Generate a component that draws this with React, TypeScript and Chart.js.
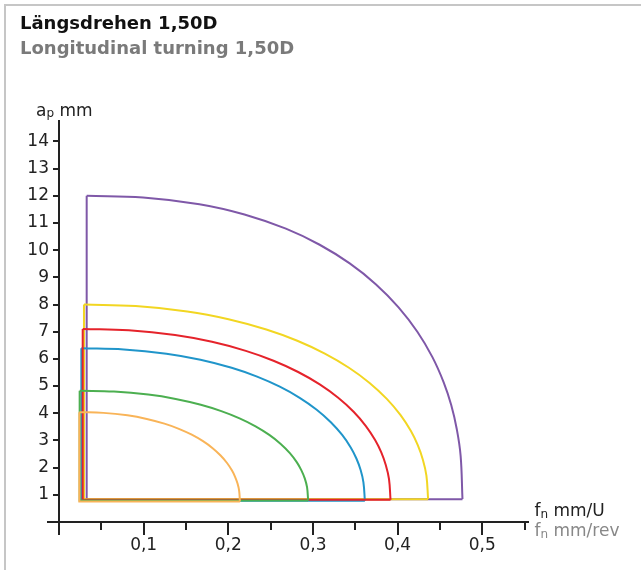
import { useEffect, useRef } from 'react';
import { Chart, registerables } from 'chart.js';

Chart.register(...registerables);

const FONT = "'DejaVu Sans', 'Liberation Sans', sans-serif";

const titleText = 'Längsdrehen 1,50D';
const subtitleText = 'Longitudinal turning 1,50D';

const yTitleParts = ['a', 'p', ' mm'];
const xTitleParts = ['f', 'n', ' mm/U'];
const xTitle2Parts = ['f', 'n', ' mm/rev'];

const xTickValues = [0, 0.1, 0.2, 0.3, 0.4, 0.5];
const xTickLabels = ['', '0,1', '0,2', '0,3', '0,4', '0,5'];
const xMinorTickValues = [0.05, 0.15, 0.25, 0.35, 0.45, 0.55];
const yTickValues = [1, 2, 3, 4, 5, 6, 7, 8, 9, 10, 11, 12, 13, 14];
const yTickLabels = ['1', '2', '3', '4', '5', '6', '7', '8', '9', '10', '11', '12', '13', '14'];
const yZeroTick = [0];

// series (top of drawing order first)
const orangeX = [0.024, 0.0525, 0.0809, 0.1037, 0.1245, 0.1416, 0.1568, 0.1701, 0.1815, 0.1909, 0.1985, 0.2042, 0.208, 0.2109, 0.2128, 0.2137];
const orangeY = [4.04, 4.014, 3.923, 3.792, 3.618, 3.428, 3.211, 2.972, 2.715, 2.445, 2.17, 1.9, 1.662, 1.413, 1.149, 0.75];
const orangeBase = 0.75;

const greenX = [0.0244, 0.0649, 0.1054, 0.1378, 0.1675, 0.1917, 0.2133, 0.2322, 0.2484, 0.2619, 0.2727, 0.2808, 0.2862, 0.2903, 0.293, 0.2943];
const greenY = [4.83, 4.798, 4.686, 4.526, 4.312, 4.078, 3.812, 3.518, 3.203, 2.871, 2.533, 2.203, 1.91, 1.605, 1.28, 0.79];
const greenBase = 0.79;

const redX = [0.028, 0.0825, 0.1371, 0.1807, 0.2207, 0.2534, 0.2825, 0.308, 0.3298, 0.348, 0.3625, 0.3734, 0.3807, 0.3861, 0.3898, 0.3916];
const redY = [7.1, 7.05, 6.876, 6.627, 6.295, 5.931, 5.517, 5.061, 4.57, 4.056, 3.53, 3.016, 2.561, 2.086, 1.582, 0.82];
const redBase = 0.82;

const blueX = [0.0264, 0.0766, 0.1269, 0.1671, 0.2039, 0.234, 0.2608, 0.2843, 0.3044, 0.3211, 0.3345, 0.3446, 0.3513, 0.3563, 0.3596, 0.3613];
const blueY = [6.39, 6.346, 6.19, 5.968, 5.671, 5.346, 4.976, 4.568, 4.13, 3.67, 3.201, 2.742, 2.335, 1.911, 1.461, 0.78];
const blueBase = 0.78;

const yellowX = [0.0295, 0.0905, 0.1515, 0.2002, 0.2449, 0.2815, 0.314, 0.3425, 0.3669, 0.3872, 0.4035, 0.4157, 0.4238, 0.4299, 0.434, 0.436];
const yellowY = [8.0, 7.943, 7.745, 7.461, 7.082, 6.668, 6.195, 5.675, 5.116, 4.529, 3.93, 3.343, 2.825, 2.284, 1.709, 0.84];
const yellowBase = 0.84;

const purpleX = [0.0327, 0.0993, 0.1659, 0.2191, 0.268, 0.3079, 0.3434, 0.3745, 0.4011, 0.4233, 0.4411, 0.4544, 0.4633, 0.4699, 0.4744, 0.4766];
const purpleY = [12.0, 11.938, 11.69, 11.313, 10.789, 10.198, 9.511, 8.74, 7.897, 6.998, 6.064, 5.136, 4.3, 3.411, 2.439, 0.84];
const purpleBase = 0.84;

const seriesList = [
  { name: 'orange', xs: orangeX, ys: orangeY, base: orangeBase, color: '#f9b458' },
  { name: 'green', xs: greenX, ys: greenY, base: greenBase, color: '#4caf50' },
  { name: 'red', xs: redX, ys: redY, base: redBase, color: '#e5232b' },
  { name: 'blue', xs: blueX, ys: blueY, base: blueBase, color: '#2095ca' },
  { name: 'yellow', xs: yellowX, ys: yellowY, base: yellowBase, color: '#f2d622' },
  { name: 'purple', xs: purpleX, ys: purpleY, base: purpleBase, color: '#7f58a8' },
];

const axisTitlePlugin = {
  id: 'axisTitles',
  afterDraw(chart: any) {
    const ctx = chart.ctx;
    const { left, top, right, bottom } = chart.chartArea;
    ctx.save();
    ctx.textBaseline = 'alphabetic';
    ctx.textAlign = 'left';
    const drawSub = (x: number, y: number, parts: string[], color: string) => {
      ctx.fillStyle = color;
      ctx.font = `17px ${FONT}`;
      ctx.fillText(parts[0], x, y);
      x += ctx.measureText(parts[0]).width;
      ctx.font = `12px ${FONT}`;
      ctx.fillText(parts[1], x, y + 1.5);
      x += ctx.measureText(parts[1]).width;
      ctx.font = `17px ${FONT}`;
      ctx.fillText(parts[2], x, y);
    };
    drawSub(left - 23, top - 5.5, yTitleParts, '#222');
    drawSub(right + 6.5, bottom - 6, xTitleParts, '#222');
    drawSub(right + 6.5, bottom + 14, xTitle2Parts, '#888');
    ctx.restore();
  },
};

export default function App() {
  const canvasRef = useRef<HTMLCanvasElement | null>(null);

  useEffect(() => {
    if (!canvasRef.current) return;
    const datasets: any[] = [];
    seriesList.forEach((s) => {
      const n = s.xs.length;
      datasets.push({
        label: s.name + ' outline',
        data: [
          { x: s.xs[0], y: s.ys[0] },
          { x: s.xs[0], y: s.base },
          { x: s.xs[n - 1], y: s.base },
        ],
        borderColor: s.color,
        borderWidth: 2,
        pointRadius: 0,
        tension: 0,
        fill: false,
        borderJoinStyle: 'miter',
      });
      datasets.push({
        label: s.name,
        data: s.xs.map((x, i) => ({ x, y: s.ys[i] })),
        borderColor: s.color,
        borderWidth: 2,
        pointRadius: 0,
        tension: 0.4,
        fill: false,
      });
    });

    const tickFont = { family: FONT, size: 17 };
    const chart = new Chart(canvasRef.current, {
      type: 'line',
      data: { datasets },
      plugins: [axisTitlePlugin],
      options: {
        animation: false,
        responsive: false,
        events: [],
        layout: { padding: { left: 20, right: 113, top: 0, bottom: 0 } },
        plugins: {
          legend: { display: false },
          tooltip: { enabled: false },
          title: {
            display: true,
            text: titleText,
            align: 'start',
            color: '#111',
            font: { family: FONT, size: 18, weight: 'bold', lineHeight: 1.2 },
            padding: { top: 13.7, bottom: 0 },
          },
          subtitle: {
            display: true,
            text: subtitleText,
            align: 'start',
            color: '#7a7a7a',
            font: { family: FONT, size: 18, weight: 'bold', lineHeight: 1.2 },
            padding: { top: 3.7, bottom: 60.4 },
          },
        },
        scales: {
          x: {
            type: 'linear',
            position: 'bottom',
            min: 0,
            max: 0.554,
            afterBuildTicks: (s: any) => {
              s.ticks = xTickValues.map((v) => ({ value: v }));
            },
            afterFit: (s: any) => {
              s.height = 48;
            },
            ticks: {
              callback: (_v: any, i: number) => xTickLabels[i],
              font: tickFont,
              color: '#222',
              padding: 0,
              maxRotation: 0,
              autoSkip: false,
            },
            grid: { drawOnChartArea: false, drawTicks: true, tickLength: 13, tickWidth: 2, tickColor: '#222', lineWidth: 2 },
            border: { display: true, color: '#222', width: 2 },
          },
          xMinor: {
            type: 'linear',
            position: 'bottom',
            weight: -1,
            min: 0,
            max: 0.554,
            afterBuildTicks: (s: any) => {
              s.ticks = xMinorTickValues.map((v) => ({ value: v }));
            },
            afterFit: (s: any) => {
              s.height = 0;
            },
            ticks: { display: false },
            grid: { drawOnChartArea: false, drawTicks: true, tickLength: 8, tickWidth: 2, tickColor: '#222', lineWidth: 2 },
            border: { display: false },
          },
          y: {
            type: 'linear',
            position: 'left',
            min: 0,
            max: 14.75,
            afterBuildTicks: (s: any) => {
              s.ticks = yTickValues.map((v) => ({ value: v }));
            },
            afterFit: (s: any) => {
              s.width = 39;
            },
            ticks: {
              callback: (_v: any, i: number) => yTickLabels[i],
              font: tickFont,
              color: '#222',
              padding: 4,
              autoSkip: false,
            },
            grid: { drawOnChartArea: false, drawTicks: true, tickLength: 6, tickWidth: 2, tickColor: '#222', lineWidth: 2 },
            border: { display: true, color: '#222', width: 2 },
          },
          y0: {
            type: 'linear',
            position: 'left',
            weight: -1,
            min: 0,
            max: 14.75,
            afterBuildTicks: (s: any) => {
              s.ticks = yZeroTick.map((v) => ({ value: v }));
            },
            afterFit: (s: any) => {
              s.width = 0;
            },
            ticks: { display: false },
            grid: { drawOnChartArea: false, drawTicks: true, tickLength: 12, tickWidth: 2, tickColor: '#222', lineWidth: 2 },
            border: { display: false },
          },
        },
      } as any,
    });
    return () => chart.destroy();
  }, []);

  return (
    <div style={{ position: 'fixed', left: 0, top: 0, width: 641, height: 570, background: '#fff' }}>
      <canvas ref={canvasRef} width={641} height={570} style={{ position: 'absolute', left: 0, top: 0, width: 641, height: 570 }} />
      <div style={{ position: 'absolute', left: 4, top: 4, width: 637, height: 2, background: '#c6c6c6' }} />
      <div style={{ position: 'absolute', left: 4, top: 4, width: 2, height: 566, background: '#c6c6c6' }} />
    </div>
  );
}
